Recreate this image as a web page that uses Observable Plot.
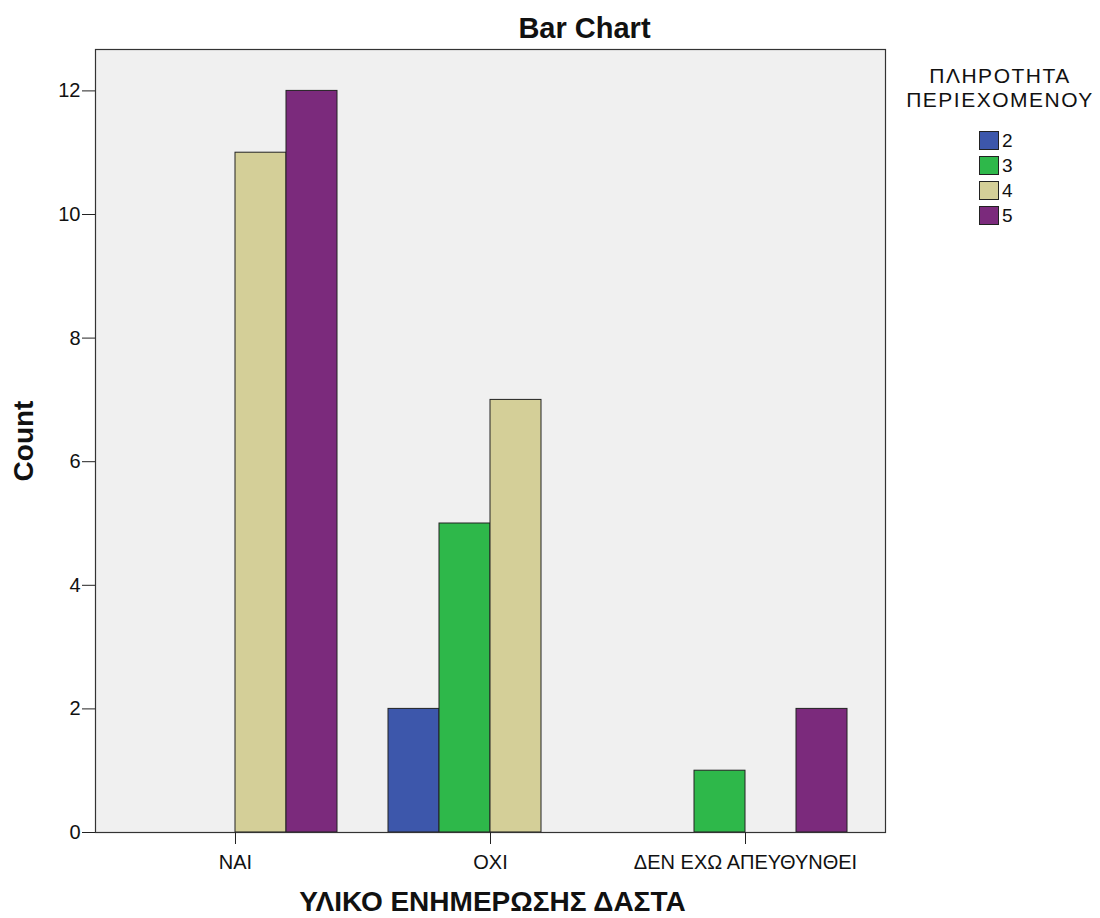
<!DOCTYPE html>
<html><head><meta charset="utf-8">
<script src="https://cdn.jsdelivr.net/npm/d3@7"></script>
<script src="https://cdn.jsdelivr.net/npm/@observablehq/plot@0.6"></script>
<style>
body{margin:0;background:#fff;font-family:Arial,"Liberation Sans",sans-serif;}
#wrap{position:relative;width:1100px;height:918px;}
#legend{position:absolute;left:0;top:0;width:1100px;height:918px;pointer-events:none;color:#111;}
.lt{position:absolute;left:900px;width:200px;text-align:center;font-size:21px;line-height:24px;letter-spacing:1.5px;white-space:nowrap;}
.sw{position:absolute;left:979px;width:18px;height:17px;border:1px solid #222;}
.sl{position:absolute;left:1002px;font-size:19px;line-height:19px;}
</style></head><body>
<div id="wrap"><div id="chart"></div><div id="legend"></div></div>
<script>
const categories = ["ΝΑΙ", "ΟΧΙ", "ΔΕΝ ΕΧΩ ΑΠΕΥΘΥΝΘΕΙ"];
const groups = ["2", "3", "4", "5"];
const count2 = [0, 2, 0];
const count3 = [0, 5, 1];
const count4 = [11, 7, 0];
const count5 = [12, 0, 2];
const colors = ["#3D57AB", "#2EB84A", "#D4CF98", "#7B2A7C"];
const yTicks = [0, 2, 4, 6, 8, 10, 12];
const legendTitle = ["ΠΛΗΡΟΤΗΤΑ", "ΠΕΡΙΕΧΟΜΕΝΟΥ"];
const chartTitle = "Bar Chart";
const xTitle = "ΥΛΙΚΟ ΕΝΗΜΕΡΩΣΗΣ ΔΑΣΤΑ";
const yTitle = "Count";

const seriesCounts = [count2, count3, count4, count5];
const rows = [];
groups.forEach((g, gi) => categories.forEach((c, ci) => rows.push({cat: c, group: g, gi, count: seriesCounts[gi][ci]})));

const W = 1100, H = 918, ML = 95, MR = 215, MT = 49, MB = 86;
const pIn = 0.2, pOut = 0.149;
const step = (W - ML - MR) / (categories.length - pIn + 2 * pOut);
const bw = step * (1 - pIn);
const barW = bw / groups.length;

const marks = [Plot.frame({fill: "#F0F0F0"})];
groups.forEach((g, gi) => {
  marks.push(Plot.barY(rows.filter(r => r.gi === gi && r.count > 0), {
    x: "cat", y: "count", fill: "group", stroke: "#222", strokeWidth: 1,
    insetLeft: gi * barW, insetRight: (groups.length - 1 - gi) * barW
  }));
});
marks.push(Plot.ruleX([0], {frameAnchor: "right", stroke: "#777", strokeWidth: 2.5}));
marks.push(Plot.frame({stroke: "#333", strokeWidth: 1.2}));
marks.push(Plot.axisY({ticks: yTicks, tickSize: 13, tickPadding: 2, fontSize: 20, label: null, stroke: "#222"}));
marks.push(Plot.axisX({tickSize: 12, tickPadding: 10, fontSize: 20, label: null, stroke: "#222"}));
marks.push(Plot.text([chartTitle], {text: d => d, frameAnchor: "top", lineAnchor: "middle", dx: 94, dy: -21, fontSize: 29, fontWeight: "bold"}));
marks.push(Plot.text([yTitle], {text: d => d, frameAnchor: "left", textAnchor: "middle", lineAnchor: "middle", dx: -71, rotate: -90, fontSize: 28, fontWeight: "bold"}));
marks.push(Plot.text([xTitle], {text: d => d, frameAnchor: "bottom", lineAnchor: "middle", dx: 2, dy: 70, fontSize: 28, fontWeight: "bold"}));

const chart = Plot.plot({
  width: W, height: H,
  marginLeft: ML, marginRight: MR, marginTop: MT, marginBottom: MB,
  style: {fontFamily: "Arial, 'Liberation Sans', sans-serif", color: "#111", background: "#fff"},
  x: {type: "band", domain: categories, paddingInner: pIn, paddingOuter: pOut, round: false, axis: null},
  y: {domain: [0, 12.67], axis: null},
  color: {domain: groups, range: colors},
  marks
});
document.getElementById("chart").appendChild(chart);

const lg = document.getElementById("legend");
legendTitle.forEach((t, i) => {
  const d = document.createElement("div");
  d.className = "lt"; d.style.top = (64 + i * 24) + "px"; d.textContent = t;
  lg.appendChild(d);
});
groups.forEach((g, i) => {
  const s = document.createElement("div");
  s.className = "sw"; s.style.top = (131 + i * 25) + "px"; s.style.background = colors[i];
  lg.appendChild(s);
  const l = document.createElement("div");
  l.className = "sl"; l.style.top = (131 + i * 25) + "px"; l.textContent = g;
  lg.appendChild(l);
});
</script>
</body></html>
